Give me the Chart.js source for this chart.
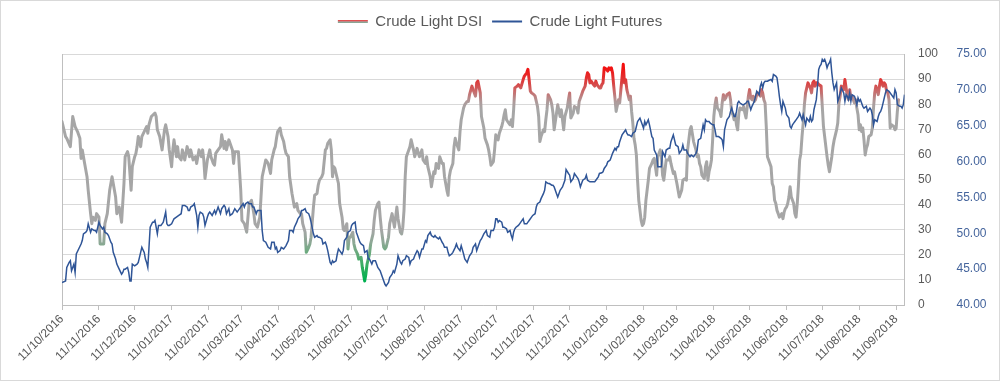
<!DOCTYPE html>
<html><head><meta charset="utf-8">
<script src="https://cdn.jsdelivr.net/npm/chart.js@4.4.1/dist/chart.umd.min.js"></script>
<style>html,body{margin:0;padding:0;background:#fff}#wrap{width:1000px;height:381px;position:relative}</style>
</head><body><div id="wrap"><canvas id="c"></canvas></div>
<script>
// ---- data (day offsets counted from 11/10/2016) ----
const START_DATE = '2016-10-11';
const xTickLabels = ['11/10/2016','11/11/2016','11/12/2016','11/01/2017','11/02/2017','11/03/2017','11/04/2017','11/05/2017','11/06/2017','11/07/2017','11/08/2017','11/09/2017','11/10/2017','11/11/2017','11/12/2017','11/01/2018','11/02/2018','11/03/2018','11/04/2018','11/05/2018','11/06/2018','11/07/2018','11/08/2018','11/09/2018'];

const dsiDays = [
0,3,4,7,9,11,13,15,16,17, 19,21,22,24,25,26,28,29,31,32, 35,36,38,40,42,43,45,46,48,50, 52,53,55,56,58,59,61,62,63,64,
66,67,69,71,72,73,75,78,79,80, 82,84,86,87,89,90,92,93,94,96, 97,98,100,101,103,105,107,108,110,112, 113,115,117,118,119,120,122,124,125,127,
128,129,131,133,134,136,137,138,140,143, 144,145,148,150,151,153,155,157,159,161, 162,164,166,167,168,171,173,175,176,178,
179,180,181,183,184,186,187,188,190,191, 193,194,195,197,198,200,201,202,204,205, 207,208,209,211,212,214,215,216,218,219,
221,222,223,225,226,227,228,229,230,232, 233,235,236,237,239,240,241,242,244,245, 246,248,249,251,252,254,255,256,258,259,
261,262,263,265,266,267,268,270,271,272, 274,275,277,278,279,281,282,284,285,286, 287,288,289,291,292,293,295,296,298,299,
300,302,303,305,306,307,309,310,312,313, 314,316,317,319,320,321,323,324,325,326, 328,329,330,331,333,334,335,337,338,340,
341,342,344,345,347,348,349,351,352,354,
355,357,358,359,360,362,363,364,366,367, 369,370,371,372,373,374,376,377,378,379, 380,382,383,385,387,388,390,391,392,393,
394,396,397,399,400,401,402,404,405,406, 407,408,410,411,412,413,415,416,418,419, 420,421,422,424,425,426,427,429,430,432,
433,434,436,437,439,440,441,442,443,444, 446,447,448,449,451,452,453,454,455,457, 458,459,460,461,462,463,464,465,467,468,
469,471,472,473,474,476,477,478,479,480, 481,482,483,484,486,487,488,489,490,492, 493,495,496,497,499,500,502,503,504,505,
506,507,509,510,511,513,514,516,517,518, 520,521,523,524,525,527,528,
530,532,533,534,535,536,537,539,540,541, 542,543,544,545,546,547,548,549,550,552, 553,554,555,556,557,558,560,561,562,563,
564,565,566,567,568,569,571,572,573,574, 576,577,578,579,580,581,582,583,584,586, 587,588,589,590,591,592,593,595,596,597,
598,599,600,601,602,604,605,606,607,608, 609,610,611,612,614,615,616,617,618,619, 620,621,622,623,624,625,626,628,629,630,
631,632,633,634,635,637,638,639,640,641, 642,643,644,646,647,648,649,650,651,652, 653,654,656,657,658,659,660,661,662,663,
665,666,667,668,669,670,671,672,673,674, 675,676,677,679,680,681,682,683,684,685, 686,687,689,690,691,692,693,694,695,696,
698,699,700,701,702
];
const dsiValues = [
73.1,67.1,66.4,63.1,75.1,71.1,69.1,66.4,58.4,61.8, 56.4,51.1,45.7,36.4,32.4,35.0,33.7,36.4,35.0,24.3, 24.3,32.4,36.4,45.7,51.1,48.4,43.0,36.4,39.0,33.0, 48.4,59.1,61.1,59.1,45.7,55.1,59.1,60.4,63.1,67.1,
63.1,67.1,69.1,71.1,68.4,71.8,75.1,76.5,75.1,69.8, 67.1,61.8,69.8,71.8,67.1,61.8,55.1,61.8,65.8,59.1, 63.1,59.1,57.8,61.8,57.8,63.1,59.1,61.8,57.8,59.1, 56.4,61.8,59.1,61.8,57.8,50.4,57.8,61.8,59.1,56.4,
55.7,60.4,61.8,63.1,67.8,62.4,65.1,61.8,65.8,61.8, 56.4,61.1,61.1,45.7,33.7,32.4,29.0,40.4,41.7,36.4, 32.4,31.0,35.0,43.0,51.1,57.8,56.4,52.4,57.8,61.8,
63.1,66.4,69.1,70.5,67.8,65.1,62.4,60.4,59.1,51.1, 44.4,41.7,39.0,40.4,37.7,36.4,36.4,32.4,29.0,21.0, 23.0,24.3,27.0,39.0,43.7,44.4,47.7,49.7,51.1,52.4,
61.8,62.4,64.4,65.8,61.8,51.1,55.1,54.4,52.4,48.4, 40.4,35.0,30.3,29.7,32.4,22.3,27.0,27.0,29.0,24.3, 22.3,20.3,18.3,19.0,15.0,9.6,12.3,16.3,20.3,24.3,
28.3,33.7,37.7,40.4,41.0,35.0,30.3,23.0,22.3,23.0, 27.0,32.4,36.4,33.7,31.0,39.0,34.4,29.0,28.3,31.0, 37.7,51.1,59.1,61.8,63.1,65.8,61.8,59.1,62.4,60.4,
59.1,61.8,57.8,56.4,59.1,55.1,51.1,47.1,53.1,52.4, 56.4,54.4,59.1,56.4,56.4,51.1,45.7,43.7,51.1,53.7, 56.4,63.1,66.4,64.4,61.8,69.1,73.8,78.5,79.8,81.1,
81.1,83.8,87.2,85.8,83.2,88.5,89.2,84.5,75.1,70.5,
66.4,63.8,61.8,59.1,55.7,57.1,61.8,67.8,65.8,68.4, 71.1,73.1,75.8,77.8,73.8,73.1,71.8,73.8,71.1,77.8, 86.5,87.2,87.8,86.5,89.8,91.2,92.5,93.9,89.8,85.2,
84.5,83.8,83.2,79.1,75.1,65.1,67.1,69.8,69.1,73.8, 77.8,83.8,81.8,79.8,76.5,69.8,76.5,79.8,75.1,77.8, 73.8,69.8,75.1,78.5,81.8,84.5,74.5,76.5,79.1,78.5,
76.5,81.1,83.8,85.2,87.2,90.5,92.5,91.8,88.5,89.2, 87.8,87.2,89.2,87.8,86.5,86.5,87.8,88.5,94.5,93.9, 93.2,94.5,93.9,94.5,92.5,87.2,82.5,77.1,81.8,80.5,
85.8,95.9,88.5,89.8,85.8,81.8,83.2,77.1,72.5,66.4, 63.8,59.8,49.7,41.7,33.7,31.7,32.4,35.0,41.7,49.7, 54.4,56.4,57.8,58.4,51.7,59.1,61.8,59.1,51.7,49.7,
53.7,57.8,57.8,59.1,56.4,52.4,53.1,48.4,45.7,43.0, 45.7,49.7,50.4,49.7,61.8,69.8,71.1,
65.1,61.8,59.1,59.8,56.4,55.1,51.7,50.4,55.1,57.1, 49.7,53.1,55.1,57.8,65.8,75.1,79.8,82.5,78.5,77.1, 75.1,80.5,83.8,81.8,82.5,83.8,84.5,81.8,76.5,75.8,
73.8,75.8,71.8,69.8,76.5,78.5,77.8,79.1,76.5,74.5, 83.2,85.8,82.5,81.8,83.2,81.1,81.8,83.8,84.5,83.2, 85.8,84.5,81.8,80.5,71.1,59.1,57.8,55.1,48.4,47.1,
41.7,40.4,37.7,36.4,35.0,36.4,34.4,37.0,38.4,39.0, 40.4,43.0,47.1,43.0,40.4,36.4,35.0,40.4,47.7,57.8, 60.4,67.1,72.5,79.8,84.5,86.5,88.5,86.5,84.5,88.5,
89.2,87.2,88.5,88.5,87.8,87.2,79.1,71.1,67.1,63.1, 59.1,55.7,53.1,59.1,63.1,65.8,67.8,69.8,72.5,80.5, 83.2,87.2,85.8,89.8,86.5,83.2,81.8,85.8,82.5,83.2,
80.5,81.8,78.5,75.8,69.8,71.8,69.1,70.5,65.8,59.8, 62.4,63.8,67.1,67.8,70.5,78.5,84.5,87.2,85.8,83.8, 87.2,89.8,87.2,88.5,87.8,85.2,84.5,81.8,70.5,71.8,
71.1,69.8,70.5,77.1,81.8
];

const futDays = [
0,3,4,6,7,8,10,11,12,14, 16,17,18,20,21,22,24,25,27,28, 29,31,32,34,35,36,38,39,41,42, 43,45,46,48,50,51,52,53,55,56,
57,58,59,61,63,64,66,67,69,70, 71,72,73,74,76,77,78,80,81,83, 84,85,87,88,89,90,92,94,96,98, 100,101,103,105,106,107,108,110,111,113,
114,115,116,118,119,120,122,123,124,126, 128,129,130,131,133,134,136,137,138,140, 141,143,145,146,147,149,150,152,153,154,
156,157,159,160,161,163,164,165,167,168, 169,171,173,175,176,178,
179,180,181,183,184,186,187,188,190,191, 193,194,195,197,198,200,201,202,204,205, 207,208,209,211,212,214,215,216,218,219,
221,222,223,225,226,227,228,230,231,232, 233,235,236,237,239,240,242,243,244,246, 247,248,249,250,251,253,254,256,257,258,
260,261,263,264,265,267,268,270,271,272, 274,275,277,278,279,281,282,284,285,286, 288,289,291,292,293,295,296,298,299,300,
302,303,305,306,307,309,310,312,313,314, 316,317,319,320,321,323,324,325,327,328, 330,331,332,334,335,337,338,340,341,342,
344,345,347,348,349,351,352,354,
356,357,359,360,362,363,364,365,366,367, 369,370,371,373,374,376,377,378,379,380, 381,383,384,385,387,388,390,391,392,394,
395,397,398,399,401,402,404,405,406,408, 409,411,412,413,415,416,417,418,419,420, 422,423,425,426,427,429,430,432,433,434,
435,436,437,439,440,441,443,444,446,447, 448,450,451,453,454,455,457,458,460,461, 462,464,465,466,467,468,469,470,472,473,
474,475,476,478,479,481,482,483,485,486, 487,488,489,490,492,493,495,496,497,499, 500,502,503,504,506,507,509,510,511,513,
514,515,517,518,520,521,522,524,525,527, 528,
530,532,533,534,536,537,538,539,540,541, 543,544,546,547,548,549,550,551,553,554, 555,556,557,558,560,561,562,564,565,566,
567,568,569,571,572,574,575,576,578,579, 581,582,583,585,586,587,588,589,590,592, 593,595,596,597,599,600,601,602,603,604,
605,606,607,608,610,611,612,613,614,615, 616,617,618,619,620,621,622,624,625,626, 627,628,629,630,631,633,634,635,636,637,
638,639,640,641,642,643,644,645,646,647, 648,649,650,651,652,653,654,656,657,658, 659,660,661,662,663,665,666,667,668,669,
670,671,672,673,675,676,677,678,679,680, 681,682,684,685,686,687,688,689,690,691, 692,694,695,696,697,698,699,700,701,703,
704,705,706,707
];
const futValues = [
43.13,43.36,45.24,45.94,46.17,44.77,45.70,44.54,47.11,47.81, 48.51,48.98,49.92,50.15,50.38,51.32,50.15,50.62,50.38,50.38, 50.15,51.55,51.09,50.62,50.85,50.15,49.92,49.68,48.75,48.51, 47.34,46.41,45.70,45.00,44.30,44.54,45.00,45.00,45.24,44.54,
43.36,43.36,45.70,45.47,45.70,45.94,47.34,48.04,47.34,46.41, 45.94,45.24,48.04,50.85,51.55,51.55,51.79,49.92,51.09,51.09, 51.32,51.55,52.96,51.32,51.09,51.09,51.32,52.02,52.26,52.49, 52.73,53.89,53.89,53.66,53.19,53.19,53.66,53.89,54.13,52.49,
50.85,52.49,52.96,52.73,52.26,51.09,52.26,52.73,52.96,52.49, 53.19,52.73,53.19,53.66,52.73,53.43,53.89,53.66,52.73,53.43, 52.49,52.73,53.43,53.19,52.96,53.43,53.66,54.13,53.66,54.13,
54.36,54.13,54.13,53.66,53.66,52.73,53.19,53.19,53.19,50.38, 48.98,48.75,48.04,47.81,48.75,48.75,
47.81,48.04,47.34,47.58,48.04,47.81,48.04,48.28,48.98,50.38, 50.38,50.15,50.85,51.55,52.02,52.49,53.19,53.19,53.43,52.96, 52.73,52.26,51.55,49.92,49.45,49.68,49.45,49.45,49.21,48.51,
48.75,48.28,47.58,45.94,45.70,46.17,45.94,46.17,47.11,47.81, 47.58,47.11,47.58,48.98,49.45,50.15,50.38,51.09,51.32,51.55, 50.15,49.68,49.21,48.75,48.51,48.28,47.34,47.58,46.41,46.41,
45.70,46.17,46.17,45.70,45.24,44.77,44.30,43.36,42.89,42.66, 43.13,43.83,44.30,44.77,44.54,45.70,46.87,45.94,45.70,46.17, 46.41,46.87,46.64,45.70,46.17,46.41,46.87,47.58,47.34,46.64,
47.81,47.81,48.98,48.75,49.68,50.15,49.68,49.45,49.68,49.45, 49.21,49.45,48.75,48.51,48.04,48.04,47.34,46.87,47.11,47.34, 48.04,48.51,48.04,47.58,48.28,47.11,46.41,45.94,46.41,46.87,
47.34,48.04,48.51,47.58,48.04,48.98,49.21,49.92,
50.38,49.68,49.45,50.38,50.38,50.85,52.02,52.02,51.55,51.79, 51.55,50.85,50.85,50.62,50.15,50.38,49.68,49.21,50.15,50.62, 50.85,51.09,51.32,51.55,52.02,51.32,51.32,51.55,51.79,52.26,
52.49,52.73,53.66,54.13,54.36,54.83,55.53,56.00,57.17,56.93, 56.93,56.70,56.70,56.47,55.53,55.06,55.53,56.00,56.23,56.47, 57.40,58.90,58.34,58.10,57.17,57.64,58.34,57.87,57.64,57.17,
56.47,56.93,57.40,57.64,58.10,57.40,57.17,57.17,57.17,57.17, 57.40,57.87,58.34,58.43,58.57,59.04,59.51,59.97,60.21,60.68, 61.15,61.85,61.61,62.08,62.08,62.78,63.25,63.72,64.19,64.42,
63.95,63.72,63.72,63.48,63.95,64.19,64.89,65.59,66.06,65.59, 65.12,64.65,65.59,65.12,65.82,65.12,63.48,63.25,61.61,60.91, 59.27,59.27,59.27,61.38,60.68,61.61,61.85,61.85,62.78,63.72,
63.02,62.32,62.08,61.15,61.61,62.32,61.61,61.61,61.15,60.68, 60.91,
60.68,61.15,61.61,63.02,63.25,64.19,65.12,64.42,65.82,65.59, 65.59,65.36,65.12,65.12,64.42,63.48,63.48,63.48,63.25,63.02, 62.08,64.42,65.12,65.82,66.29,66.99,67.46,66.29,66.29,66.99,
68.16,68.40,68.16,67.93,67.93,68.16,68.40,68.40,67.23,67.70, 68.40,69.10,69.80,69.33,70.50,70.97,70.27,70.97,71.20,71.20, 71.30,71.44,71.20,72.14,71.91,71.67,70.50,69.10,67.93,66.99,
68.40,67.93,67.46,66.53,66.06,64.89,64.65,65.12,65.36,65.59, 65.82,66.06,66.29,66.76,66.29,65.82,66.53,65.12,66.06,65.82, 65.59,66.29,65.59,65.82,67.23,68.63,70.50,72.84,73.31,73.54,
74.25,74.01,74.25,73.78,73.08,73.54,73.78,74.25,72.37,70.97, 70.04,70.50,70.97,68.40,68.87,69.57,70.27,69.57,68.40,69.33, 69.10,68.63,69.57,68.40,69.33,69.10,68.63,67.93,68.87,68.40,
68.63,68.16,67.70,67.46,67.70,66.99,67.23,67.46,67.23,66.53, 65.12,65.82,65.59,66.29,66.76,66.99,67.46,68.16,68.87,69.57, 70.04,69.80,69.57,69.33,69.10,68.87,70.04,69.57,67.93,67.70,
67.70,67.46,67.93,69.33
];

// ---- helpers ----
const DAY_MS = 86400000;
const startMs = Date.parse(START_DATE + 'T00:00:00Z');
function dayOfLabel(lbl) {
  const [d, m, y] = lbl.split('/').map(Number);
  return Math.round((Date.UTC(y, m - 1, d) - startMs) / DAY_MS);
}
const xTickDays = xTickLabels.map(dayOfLabel);
const X_MAX = 707;

const dsiColorStops = [[100,'#FF0000'],[94,'#F01414'],[89,'#DC3C3C'],[85,'#C86C6C'],[81,'#AE9A9A'],[78,'#A6A6A6'],[30,'#A6A6A6'],[25,'#8EA896'],[20,'#62AA78'],[15,'#2EAE5C'],[10,'#00B050'],[0,'#00B050']];

function dsiStroke(ctx) {
  const chart = ctx.chart;
  if (!chart.chartArea || !chart.scales.y) return '#A6A6A6';
  const ys = chart.scales.y;
  const top = ys.getPixelForValue(100), bot = ys.getPixelForValue(0);
  const g = chart.ctx.createLinearGradient(0, top, 0, bot);
  dsiColorStops.forEach(([v, c]) => g.addColorStop((100 - v) / 100, c));
  return g;
}

Chart.defaults.font.family = "'Liberation Sans', Arial, sans-serif";
Chart.defaults.color = '#595959';

const legendFit = {
  id: 'legendFit',
  beforeLayout(chart) {
    const lg = chart.legend;
    if (lg && !lg._patched) {
      const orig = lg.fit;
      lg.fit = function () { orig.call(this); this.height = 50; };
      lg._patched = true;
    }
  }
};
const frame = {
  id: 'frame',
  afterDraw(chart) {
    const c = chart.ctx;
    c.save();
    c.strokeStyle = '#D9D9D9';
    c.lineWidth = 1;
    c.strokeRect(0.5, 0.5, chart.width - 1, chart.height - 1);
    c.restore();
  }
};

new Chart(document.getElementById('c'), {
  type: 'line',
  data: {
    datasets: [
      {
        label: 'Crude Light DSI',
        data: dsiDays.map((d, i) => ({ x: d, y: dsiValues[i] })),
        yAxisID: 'y',
        borderColor: dsiStroke,
        borderWidth: 3,
        pointRadius: 0,
        tension: 0,
        borderJoinStyle: 'round',
        borderCapStyle: 'round',
        order: 1
      },
      {
        label: 'Crude Light Futures',
        data: futDays.map((d, i) => ({ x: d, y: futValues[i] })),
        yAxisID: 'y2',
        borderColor: '#2F5597',
        borderWidth: 1.5,
        pointRadius: 0,
        tension: 0,
        order: 0
      }
    ]
  },
  options: {
    responsive: true,
    maintainAspectRatio: false,
    animation: false,
    layout: { padding: { left: 4, right: 4, top: 4, bottom: 0 } },
    plugins: {
      tooltip: { enabled: false },
      legend: {
        display: true,
        position: 'top',
        align: 'center',
        labels: {
          usePointStyle: true,
          pointStyleWidth: 30,
          padding: 10,
          color: '#595959',
          font: { size: 15 },
          generateLabels(chart) {
            const g = chart.ctx.createLinearGradient(0, 20.5, 0, 23.5);
            g.addColorStop(0, '#E05050');
            g.addColorStop(0.5, '#A6A6A6');
            g.addColorStop(1, '#50A870');
            return [
              { text: 'Crude Light DSI', strokeStyle: g, fillStyle: g, lineWidth: 3, pointStyle: 'line', datasetIndex: 0, hidden: false, fontColor: '#595959' },
              { text: 'Crude Light Futures', strokeStyle: '#2F5597', fillStyle: '#2F5597', lineWidth: 2, pointStyle: 'line', datasetIndex: 1, hidden: false, fontColor: '#595959' }
            ];
          }
        }
      }
    },
    scales: {
      x: {
        type: 'linear',
        min: 0,
        max: X_MAX,
        afterBuildTicks: (s) => { s.ticks = xTickDays.map(v => ({ value: v })); },
        afterFit: (s) => { s.height = 76; },
        ticks: {
          autoSkip: false,
          minRotation: 45,
          maxRotation: 45,
          color: '#595959',
          font: { size: 12 },
          padding: 2,
          callback: (v) => xTickLabels[xTickDays.indexOf(v)]
        },
        grid: { display: true, drawOnChartArea: false, drawTicks: true, tickLength: 5, color: '#BFBFBF' },
        border: { display: true, color: '#BFBFBF' }
      },
      yL: {
        position: 'left',
        min: 0,
        max: 100,
        ticks: { display: false },
        grid: { display: false, drawTicks: false },
        border: { display: true, color: '#BFBFBF' },
        afterFit: (s) => { s.width = 58; }
      },
      y: {
        position: 'right',
        weight: 0,
        min: 0,
        max: 100,
        ticks: { stepSize: 10, color: '#595959', font: { size: 12 }, padding: 13.5 },
        grid: { color: '#D9D9D9', drawTicks: false },
        border: { display: true, color: '#BFBFBF' },
        afterFit: (s) => { s.width = 46; }
      },
      y2: {
        position: 'right',
        weight: 1,
        min: 40,
        max: 75,
        ticks: { stepSize: 5, color: '#44649C', font: { size: 12 }, padding: 6, callback: (v) => Number(v).toFixed(2) },
        grid: { display: false, drawTicks: false },
        border: { display: false },
        afterFit: (s) => { s.width = 45.5; }
      }
    }
  },
  plugins: [legendFit, frame]
});
</script></body></html>
